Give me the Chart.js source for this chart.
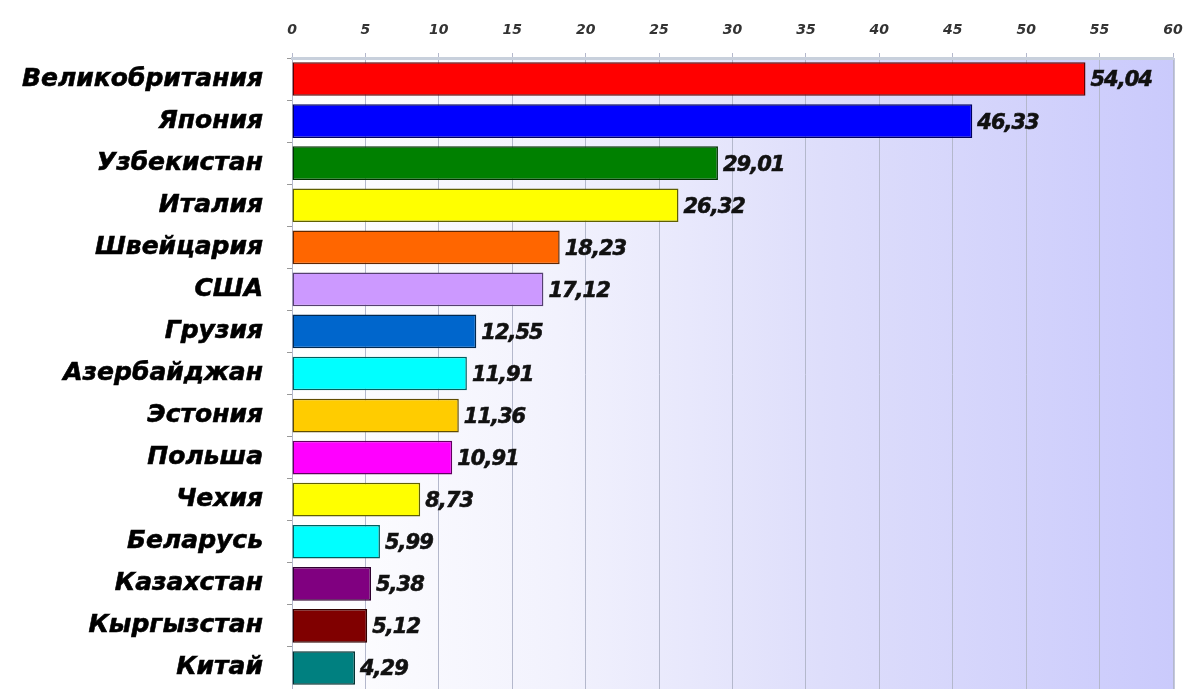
<!DOCTYPE html>
<html>
<head>
<meta charset="utf-8">
<script src="https://cdn.jsdelivr.net/npm/chart.js@4"></script>
<style>
html,body{margin:0;padding:0;background:#fff;}
#wrap{width:1183px;height:689px;position:relative;}
</style>
</head>
<body>
<div id="wrap"><canvas id="c" width="1183" height="689"></canvas></div>
<script>
const categories = ["Великобритания","Япония","Узбекистан","Италия","Швейцария","США","Грузия","Азербайджан","Эстония","Польша","Чехия","Беларусь","Казахстан","Кыргызстан","Китай"];
const values = [54.04,46.33,29.01,26.32,18.23,17.12,12.55,11.91,11.36,10.91,8.73,5.99,5.38,5.12,4.29];
const barColors = ["#ff0000","#0000ff","#008000","#ffff00","#ff6600","#cc99ff","#0066cc","#00ffff","#ffcc00","#ff00ff","#ffff00","#00ffff","#800080","#800000","#008080"];
const borderColors = ["#600000","#000060","#003000","#606000","#602600","#554070","#002850","#006060","#604c00","#600060","#606000","#006060","#300030","#300000","#003030"];
const xTicks = [0,5,10,15,20,25,30,35,40,45,50,55,60];

const FONT = '"DejaVu Sans", "Liberation Sans", Arial, sans-serif';

const bgPlugin = {
  id:'bg',
  beforeDraw(chart){
    const {ctx, chartArea:a} = chart;
    const g = ctx.createLinearGradient(a.left,0,a.right,0);
    g.addColorStop(0,'#ffffff');
    g.addColorStop(0.3,'#f2f2fd');
    g.addColorStop(0.6,'#dedefb');
    g.addColorStop(1,'#cacafc');
    ctx.save();
    ctx.fillStyle = g;
    ctx.fillRect(a.left,a.top,a.right-a.left,a.bottom-a.top);
    ctx.strokeStyle = '#c4c8dc';
    ctx.lineWidth = 2;
    ctx.beginPath();
    ctx.moveTo(a.right+1,a.top);ctx.lineTo(a.right+1,a.bottom);
    ctx.stroke();
    ctx.restore();
  }
};
const labelPlugin = {
  id:'vals',
  afterDatasetsDraw(chart){
    const {ctx} = chart;
    const meta = chart.getDatasetMeta(0);
    ctx.save();
    ctx.font = 'italic bold 21px ' + FONT;
    try { ctx.letterSpacing = '-1px'; } catch(e) {}
    ctx.fillStyle = '#111';
    ctx.strokeStyle = '#111';
    ctx.lineWidth = 0.6;
    ctx.textBaseline = 'middle';
    ctx.textAlign = 'left';
    meta.data.forEach((bar,i)=>{
      const t = values[i].toFixed(2).replace('.',',');
      ctx.fillText(t, bar.x+5, bar.y+2);
      ctx.strokeText(t, bar.x+5, bar.y+2);
    });
    ctx.restore();
  }
};

new Chart(document.getElementById('c'),{
  type:'bar',
  data:{labels:categories,datasets:[{data:values,backgroundColor:barColors,borderColor:borderColors,borderWidth:1.5,borderSkipped:false,categoryPercentage:1,barPercentage:0.8}]},
  options:{
    indexAxis:'y',
    responsive:false,
    animation:false,
    layout:{padding:{left:0,right:10,top:0,bottom:0}},
    plugins:{legend:{display:false},tooltip:{enabled:false}},
    scales:{
      x:{
        position:'top',min:0,max:60,
        afterBuildTicks(s){ s.ticks = xTicks.map(v=>({value:v})); },
        afterFit(s){ s.height = 58; s.paddingLeft = 0; s.paddingRight = 0; },
        grid:{color:'#b4b8cc',lineWidth:1,tickLength:5,drawTicks:true},
        border:{display:true,color:'#c8d0dc',width:3},
        ticks:{color:'#333',font:{family:FONT,size:14,style:'italic',weight:'bold'},padding:14,maxRotation:0}
      },
      y:{
        afterFit(s){ s.width = 292; s.paddingTop = 0; s.paddingBottom = 0; },
        grid:{drawOnChartArea:false,drawTicks:true,tickLength:5,color:'#999',offset:true},
        border:{display:false},
        ticks:{color:'#000',font:{family:FONT,size:25,style:'italic',weight:'bold'},padding:24,autoSkip:false,textStrokeColor:'#000',textStrokeWidth:0.6}
      }
    }
  },
  plugins:[bgPlugin,labelPlugin]
});
</script>
</body>
</html>
